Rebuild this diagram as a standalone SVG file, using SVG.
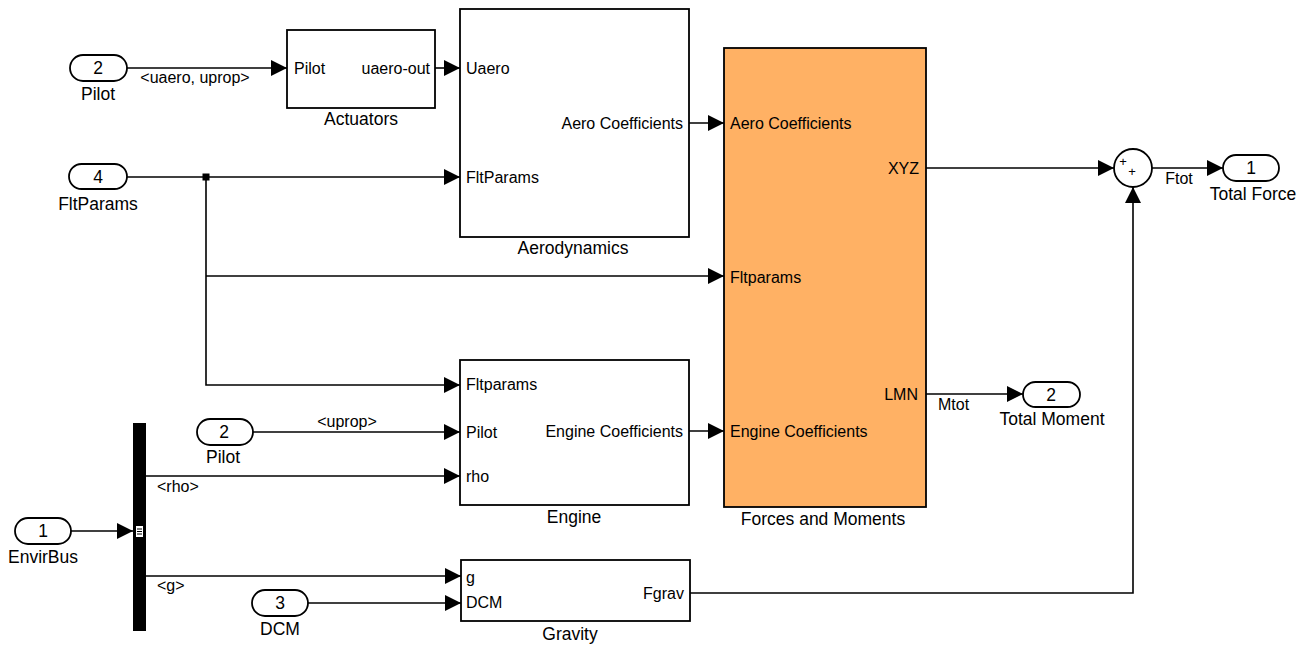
<svg xmlns="http://www.w3.org/2000/svg" width="1309" height="646" viewBox="0 0 1309 646">
<style>
text{font-family:"Liberation Sans",Arial,sans-serif;fill:#000}
.p{font-size:16px}
.n{font-size:17.5px;text-anchor:middle}
.s{font-size:16px}
.r{text-anchor:end}
.m{text-anchor:middle}
.blk{fill:#fff;stroke:#000;stroke-width:1.8}
.io{fill:#fff;stroke:#000;stroke-width:1.8}
.w{fill:none;stroke:#000;stroke-width:1.6}
</style>
<defs>
<marker id="a" markerUnits="userSpaceOnUse" markerWidth="17" markerHeight="16" refX="16" refY="8" orient="auto">
<path d="M0,0 L16,8 L0,16 z" fill="#000"/>
</marker>
</defs>
<rect width="1309" height="646" fill="#fff"/>

<g id="connectors">
<path class="w" d="M127,68 H287" marker-end="url(#a)"/>
<path class="w" d="M435,68 H460" marker-end="url(#a)"/>
<path class="w" d="M127,177 H460" marker-end="url(#a)"/>
<path class="w" d="M206,177 V385 H460" marker-end="url(#a)"/>
<path class="w" d="M206,276 H724" marker-end="url(#a)"/>
<rect x="202.5" y="173.5" width="7" height="7" fill="#000"/>
<path class="w" d="M689,123 H724" marker-end="url(#a)"/>
<path class="w" d="M689,431 H724" marker-end="url(#a)"/>
<path class="w" d="M926,168 H1114" marker-end="url(#a)"/>
<path class="w" d="M690,593 H1133 V187" marker-end="url(#a)"/>
<path class="w" d="M1152,168 H1223" marker-end="url(#a)"/>
<path class="w" d="M926,394 H1023" marker-end="url(#a)"/>
<path class="w" d="M71,531 H133" marker-end="url(#a)"/>
<path class="w" d="M146,476 H460" marker-end="url(#a)"/>
<path class="w" d="M146,576 H461" marker-end="url(#a)"/>
<path class="w" d="M253,432 H460" marker-end="url(#a)"/>
<path class="w" d="M308,603 H461" marker-end="url(#a)"/>
<text class="s m" x="195" y="83">&lt;uaero, uprop&gt;</text>
<text class="s m" x="347" y="427">&lt;uprop&gt;</text>
<text class="s" x="157" y="492">&lt;rho&gt;</text>
<text class="s" x="157" y="591">&lt;g&gt;</text>
<text class="s m" x="1179" y="184">Ftot</text>
<text class="s" x="938" y="410">Mtot</text>
</g>

<g id="in_pilot">
<rect class="io" x="70" y="55" width="57" height="26" rx="13"/>
<text class="n" x="98" y="74">2</text>
<text class="n" x="98" y="100">Pilot</text>
</g>

<g id="in_fltparams">
<rect class="io" x="69" y="164" width="58" height="25" rx="12.5"/>
<text class="n" x="98" y="183">4</text>
<text class="n" x="98" y="210">FltParams</text>
</g>

<g id="in_pilot2">
<rect class="io" x="197" y="419" width="56" height="26" rx="13"/>
<text class="n" x="224" y="438">2</text>
<text class="n" x="223" y="463">Pilot</text>
</g>

<g id="in_envirbus">
<rect class="io" x="15" y="518" width="56" height="26" rx="13"/>
<text class="n" x="43" y="537">1</text>
<text class="n" x="43" y="563">EnvirBus</text>
</g>

<g id="in_dcm">
<rect class="io" x="252" y="590" width="56" height="26" rx="13"/>
<text class="n" x="280" y="609">3</text>
<text class="n" x="280" y="635">DCM</text>
</g>

<g id="bus_selector">
<rect x="133" y="423" width="13" height="208" fill="#000"/>
<rect x="136" y="526" width="7" height="11" fill="#fff"/>
<path d="M137,529 H142 M137,531.5 H142 M137,534 H142" stroke="#000" stroke-width="1"/>
</g>

<g id="actuators">
<rect class="blk" x="287" y="30" width="148" height="78"/>
<text class="p" x="294" y="74">Pilot</text>
<text class="p r" x="430" y="74">uaero-out</text>
<text class="n" x="361" y="125">Actuators</text>
</g>

<g id="aerodynamics">
<rect class="blk" x="460" y="9" width="229" height="228"/>
<text class="p" x="466" y="74">Uaero</text>
<text class="p" x="466" y="183">FltParams</text>
<text class="p r" x="683" y="129">Aero Coefficients</text>
<text class="n" x="573" y="254">Aerodynamics</text>
</g>

<g id="engine">
<rect class="blk" x="460" y="360" width="229" height="145"/>
<text class="p" x="466" y="390">Fltparams</text>
<text class="p" x="466" y="438">Pilot</text>
<text class="p" x="466" y="482">rho</text>
<text class="p r" x="683" y="437">Engine Coefficients</text>
<text class="n" x="574" y="523">Engine</text>
</g>

<g id="gravity">
<rect class="blk" x="461" y="560" width="229" height="61"/>
<text class="p" x="466" y="583">g</text>
<text class="p" x="466" y="608">DCM</text>
<text class="p r" x="684" y="599">Fgrav</text>
<text class="n" x="570" y="640">Gravity</text>
</g>

<g id="forces_moments">
<rect x="724" y="48" width="202" height="459" fill="#FFB164" stroke="#000" stroke-width="1.8"/>
<text class="p" x="730" y="129">Aero Coefficients</text>
<text class="p" x="730" y="283">Fltparams</text>
<text class="p" x="730" y="437">Engine Coefficients</text>
<text class="p r" x="919" y="174">XYZ</text>
<text class="p r" x="918" y="400">LMN</text>
<text class="n" x="823" y="525">Forces and Moments</text>
</g>

<g id="sum">
<circle cx="1133" cy="168" r="19" fill="#fff" stroke="#000" stroke-width="1.8"/>
<text x="1123" y="166" font-size="13" text-anchor="middle">+</text>
<text x="1132" y="176" font-size="13" text-anchor="middle">+</text>
</g>

<g id="out_total_force">
<rect class="io" x="1223" y="155" width="56" height="26" rx="13"/>
<text class="n" x="1251" y="174">1</text>
<text class="n" x="1253" y="200">Total Force</text>
</g>

<g id="out_total_moment">
<rect class="io" x="1023" y="382" width="57" height="25" rx="12.5"/>
<text class="n" x="1051" y="401">2</text>
<text class="n" x="1052" y="425">Total Moment</text>
</g>
</svg>
